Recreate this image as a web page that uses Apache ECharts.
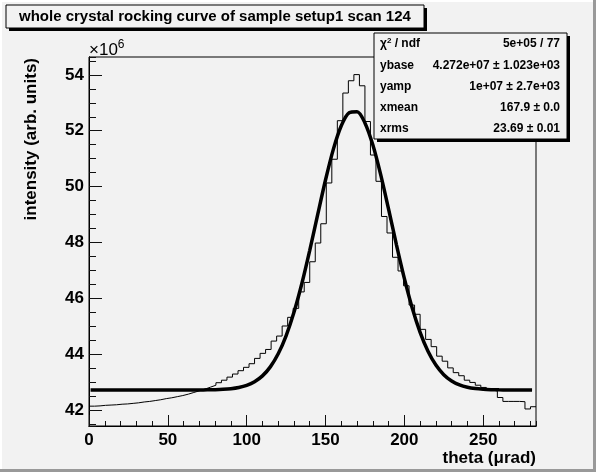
<!DOCTYPE html>
<html>
<head>
<meta charset="utf-8">
<script src="https://cdn.jsdelivr.net/npm/echarts@6/dist/echarts.min.js"></script>
<style>
	html, body { margin: 0; padding: 0; background: #f2f2f2; }
	#chart { width: 596px; height: 472px; }
</style>
</head>
<body>
<div id="chart"></div>
<script>
	// histogram: 81 bins of 3.5 urad starting at 0, contents in units of 1e6
	var binLow = 0;
	var binWidth = 3.5;
	var binValues = [
		42.14, 42.15, 42.17, 42.18, 42.19, 42.21, 42.22, 42.24, 42.26, 42.29,
		42.31, 42.34, 42.37, 42.41, 42.44, 42.48, 42.52, 42.57, 42.63, 42.69,
		42.75, 42.82, 42.89, 42.98, 43.07, 43.18, 43.29, 43.41, 43.53, 43.66,
		43.85, 44.03, 44.17, 44.47, 44.65, 45.01, 45.32, 45.64, 46.23, 46.57,
		47.31, 47.98, 48.67, 50.13, 50.98, 52.36, 53.35, 53.79, 54.01, 53.61,
		52.33, 51.13, 50.19, 48.93, 48.34, 47.47, 46.98, 46.45, 45.76, 45.43,
		44.89, 44.53, 44.27, 43.93, 43.75, 43.51, 43.34, 43.23, 43.07, 42.99,
		42.89, 42.81, 42.73, 42.68, 42.45, 42.31, 42.31, 42.31, 42.30, 42.04,
		42.12
	];

	// fit curve (theta, intensity x1e6)
	var fitTheta = [1, 65, 70, 75, 80, 85, 90, 95, 100, 105, 110, 115, 120, 125, 130, 135, 140, 145, 150, 155, 160, 165,
		170, 175, 180, 185, 190, 195, 200, 205, 210, 215, 220, 225, 230, 235, 240, 245, 250, 255, 260, 265, 270, 281];
	var fitValue = [42.72, 42.72, 42.721, 42.725, 42.73, 42.742, 42.765, 42.808, 42.884, 43.015, 43.224, 43.547, 44.015,
		44.66, 45.501, 46.532, 47.718, 48.988, 50.237, 51.342, 52.179, 52.645,
		52.681, 52.281, 51.497, 50.427, 49.192, 47.918, 46.713, 45.654, 44.782, 44.106, 43.611, 43.268, 43.042,
		42.901, 42.817, 42.77, 42.745, 42.732, 42.725, 42.722, 42.721, 42.72];

	// stats box rows
	var statNames = ['{n|χ}{sup|2}{n| / ndf}', 'ybase', 'yamp', 'xmean', 'xrms'];
	var statValues = ['5e+05 / 77', '4.272e+07 ± 1.023e+03', '1e+07 ± 2.7e+03', '167.9 ± 0.0', '23.69 ± 0.01'];

	var titleText = 'whole crystal rocking curve of sample setup1 scan 124';
	var xTitle = 'theta (μrad)';
	var yTitle = 'intensity (arb. units)';

	var FONT = '"Liberation Sans", Arial, sans-serif';
	var TICK = '#111';
	var xMax = binLow + binWidth * binValues.length;

	// outline of the histogram, one point per bin low edge plus the last edge
	function histPoints() {
		var arr = [];
		for (var i = 0; i < binValues.length; i++) {
			arr.push([binLow + i * binWidth, binValues[i]]);
		}
		arr.push([xMax, binValues[binValues.length - 1]]);
		return arr;
	}

	function fitPoints() {
		var arr = [];
		for (var i = 0; i < fitTheta.length; i++) {
			arr.push([fitTheta[i], fitValue[i]]);
		}
		return arr;
	}

	// ROOT style boxes with a black drop shadow
	function shadowBox(x, y, w, h, s) {
		return [{
			type : 'rect', shape : { x : x + s, y : y + s, width : w, height : h },
			style : { fill : '#000' }, silent : true, z : 20
		}, {
			type : 'rect', shape : { x : x, y : y, width : w, height : h },
			style : { fill : '#f2f2f2', stroke : '#000', lineWidth : 1 }, silent : true, z : 20
		}];
	}

	function buildGraphics() {
		var g = [];
		// canvas bevel
		g.push({ type : 'rect', shape : { x : 0, y : 0, width : 596, height : 2 }, style : { fill : '#fff' }, silent : true });
		g.push({ type : 'rect', shape : { x : 0, y : 0, width : 2, height : 472 }, style : { fill : '#fff' }, silent : true });
		g.push({ type : 'rect', shape : { x : 593, y : 0, width : 3, height : 472 }, style : { fill : '#999' }, silent : true });
		g.push({ type : 'rect', shape : { x : 0, y : 469, width : 596, height : 3 }, style : { fill : '#999' }, silent : true });

		// title box
		g = g.concat(shadowBox(6, 5, 418, 23, 3));
		g.push({
			type : 'text', x : 19, y : 17, z : 21,
			style : { text : titleText, font : 'bold 15px ' + FONT, fill : '#000', verticalAlign : 'middle' }
		});

		// stats box
		g = g.concat(shadowBox(374, 33, 193, 106, 3));
		for (var i = 0; i < statNames.length; i++) {
			var ry = 44 + i * 21.2;
			g.push({
				type : 'text', x : 380, y : ry, z : 21,
				style : {
					text : statNames[i], fill : '#000', verticalAlign : 'middle',
					font : 'bold 12px ' + FONT,
					rich : {
						n : { font : 'bold 12px ' + FONT },
						sup : { font : 'bold 8px ' + FONT, verticalAlign : 'top', padding : [0, 0, 6, 0] }
					}
				}
			});
			g.push({
				type : 'text', x : 560, y : ry, z : 21,
				style : { text : statValues[i], font : 'bold 12px ' + FONT, fill : '#000', align : 'right', verticalAlign : 'middle' }
			});
		}

		// exponent of the y axis
		g.push({
			type : 'text', x : 89, y : 50,
			style : {
				text : '{n|×10}{sup|6}', verticalAlign : 'middle', fill : '#000',
				rich : {
					n : { font : '17px ' + FONT },
					sup : { font : '12px ' + FONT, padding : [0, 0, 10, 0] }
				}
			}
		});

		// axis titles
		g.push({
			type : 'text', x : 31, y : 58, rotation : Math.PI / 2,
			style : { text : yTitle, font : 'bold 17px ' + FONT, fill : '#000', align : 'right', verticalAlign : 'middle' }
		});
		g.push({
			type : 'text', x : 536, y : 458,
			style : { text : xTitle, font : 'bold 17px ' + FONT, fill : '#000', align : 'right', verticalAlign : 'middle' }
		});
		return g;
	}

	var myChart = echarts.init(document.getElementById('chart'));

	var option = {
		animation : false,
		grid : {
			left : 89, right : 60, top : 57, bottom : 46, z : 0,
			show : true, borderColor : '#000', borderWidth : 1
		},
		xAxis : [ {
			type : 'value', min : 0, max : xMax, interval : 50, z : 5,
			axisLine : { show : true, onZero : false, lineStyle : { color : '#000', width : 1 } },
			axisTick : { show : true, inside : true, length : 11, lineStyle : { color : TICK } },
			axisLabel : { show : true, color : '#000', fontFamily : FONT, fontWeight : 'bold', fontSize : 17, margin : 6, showMaxLabel : false },
			splitLine : { show : false }
		}, {
			// minor ticks every 10
			type : 'value', min : 0, max : xMax, interval : 10, position : 'bottom', z : 5,
			axisLine : { show : true, onZero : false, lineStyle : { color : '#000', width : 1 } },
			axisTick : { show : true, inside : true, length : 5, lineStyle : { color : TICK } },
			axisLabel : { show : false },
			splitLine : { show : false }
		} ],
		yAxis : [ {
			type : 'value', min : 41.43, max : 54.64, splitNumber : 6, z : 5,
			axisLine : { show : true, onZero : false, lineStyle : { color : '#000', width : 1 } },
			axisTick : { show : true, inside : true, length : 13, lineStyle : { color : TICK } },
			axisLabel : { show : true, color : '#000', fontFamily : FONT, fontWeight : 'bold', fontSize : 17, margin : 5,
				showMinLabel : false, showMaxLabel : false },
			splitLine : { show : false }
		}, {
			// minor ticks every 0.5
			type : 'value', min : 41.43, max : 54.64, splitNumber : 26, position : 'left', z : 5,
			axisLine : { show : true, onZero : false, lineStyle : { color : '#000', width : 1 } },
			axisTick : { show : true, inside : true, length : 7, lineStyle : { color : TICK } },
			axisLabel : { show : false },
			splitLine : { show : false }
		} ],
		series : [ {
			name : 'histogram',
			type : 'line',
			step : 'end',
			symbol : 'none',
			lineStyle : { color : '#000', width : 1 },
			data : histPoints()
		}, {
			name : 'fit',
			type : 'line',
			smooth : 0.3,
			symbol : 'none',
			lineStyle : { color : '#000', width : 3.5 },
			data : fitPoints()
		} ],
		graphic : buildGraphics()
	};

	myChart.setOption(option);
</script>
</body>
</html>
